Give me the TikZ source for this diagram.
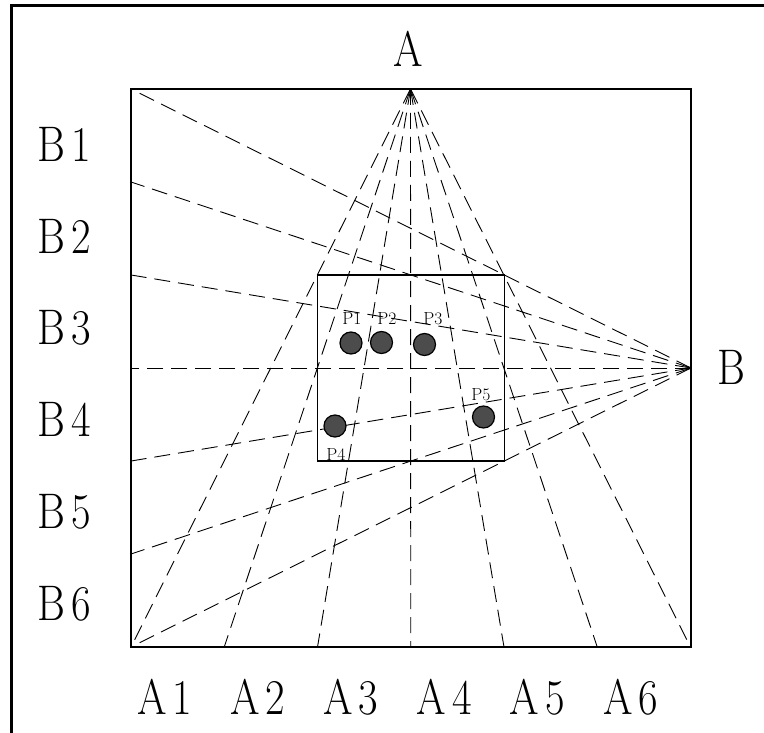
\documentclass[tikz,border=0pt]{standalone}
\usepackage{fontspec}
\setmainfont{Latin Modern Roman}
\newcommand{\lbl}[2]{\scalebox{0.85}[1]{#1\kern7pt#2}}
\begin{document}
\begin{tikzpicture}[x=1pt,y=-1pt,
  frame/.style={line width=3pt,black},
  boxline/.style={line width=1.1pt,black},
  ray/.style={line width=0.9pt,dash pattern=on 16pt off 8pt},
  biglabel/.style={font=\fontsize{50}{50}\selectfont,inner sep=0pt},
  plabel/.style={font=\fontsize{17.5}{17.5}\selectfont,inner sep=0pt},
  dot/.style={circle,fill=black!70,draw=black,line width=1.2pt,minimum size=22pt,inner sep=0pt}]
\useasboundingbox (0,0) rectangle (764,733);
% outer frame (left and top edges)
\draw[frame] (11,733) -- (11,6) -- (764,6);
% main square
\coordinate (TL) at (131,89);
\coordinate (BR) at (691,647);
\draw[boxline] (TL) rectangle (BR);
% inner box
\coordinate (iTL) at (317.7,275);
\coordinate (iBR) at (504.3,461);
\draw[boxline] (iTL) rectangle (iBR);
% vanishing points
\coordinate (A) at (410.5,89);
\coordinate (B) at (691,368);
% bottom points and left points
\foreach \k in {0,...,6} {
  \coordinate (a\k) at ({131+93.25*\k},647);
  \coordinate (b\k) at (131,{89+93*\k});
}
\foreach \k in {0,...,6} {
  \draw[ray] (A) -- (a\k);
  \draw[ray] (B) -- (b\k);
}
% labels
\node[biglabel] (LA) at (408,49) {\scalebox{0.85}[1]{A}};
\node[biglabel] (LB) at (731,367) {\scalebox{0.85}[1]{B}};
\foreach \k in {1,...,6} {
  \node[biglabel] (LA\k) at ({164.5+93.2*(\k-1)},697) {\lbl{A}{\k}};
  \node[biglabel] (LB\k) at (64.5,{144.5+91.8*(\k-1)}) {\lbl{B}{\k}};
}
% points
\node[dot] (P1) at (351,343) {};
\node[dot] (P2) at (381.5,342.5) {};
\node[dot] (P3) at (424.5,344.5) {};
\node[dot] (P4) at (335,426) {};
\node[dot] (P5) at (483.5,417) {};
\node[plabel] (L1) at (352,318.5) {P1};
\node[plabel] (L2) at (387,318.5) {P2};
\node[plabel] (L3) at (433,318.5) {P3};
\node[plabel] (L4) at (336,455) {P4};
\node[plabel] (L5) at (481,395) {P5};
\end{tikzpicture}
\end{document}
